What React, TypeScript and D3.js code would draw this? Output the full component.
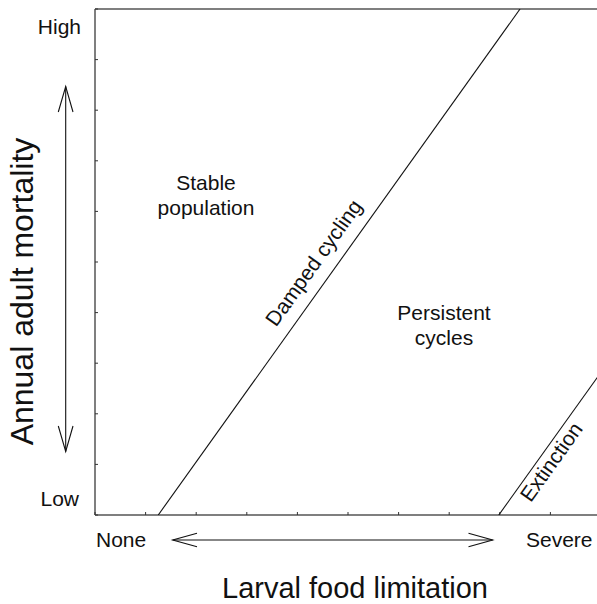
import React from "react";
import * as d3 from "d3";

const xTickValues = [0, 1, 2, 3, 4, 5, 6, 7, 8, 9, 10];
const yTickValues = [0, 1, 2, 3, 4, 5, 6, 7, 8, 9, 10];
const xEndLabels = ["None", "Severe"];
const yEndLabels = ["Low", "High"];
const dampedBoundary: [number, number][] = [[1.25, 0], [8.4, 10]];
const extinctionBoundary: [number, number][] = [[7.98, 0], [10, 2.82]];
const regionNames = ["Stable", "population", "Persistent", "cycles"];
const boundaryNames = ["Damped cycling", "Extinction"];
const xTitle = "Larval food limitation";
const yTitle = "Annual adult mortality";

const W = 597, H = 604;
const FONT = "'Liberation Sans', Arial, Helvetica, sans-serif";

export default function App() {
  const x = d3.scaleLinear().domain([0, 10]).range([95, 601]);
  const y = d3.scaleLinear().domain([0, 10]).range([515, 9]);
  const line = d3.line<[number, number]>().x(d => x(d[0])).y(d => y(d[1]));

  const ang = (pts: [number, number][]) =>
    (Math.atan2(y(pts[1][1]) - y(pts[0][1]), x(pts[1][0]) - x(pts[0][0])) * 180) / Math.PI;
  const at = (pts: [number, number][], t: number) => [
    x(pts[0][0] + (pts[1][0] - pts[0][0]) * t),
    y(pts[0][1] + (pts[1][1] - pts[0][1]) * t),
  ];

  const dA = ang(dampedBoundary);
  const dP = at(dampedBoundary, 0.475);
  const eA = ang(extinctionBoundary);
  const eP = at(extinctionBoundary, 0.42);

  const axisColor = "#555";

  return (
    <svg width={W} height={H} style={{ position: "absolute", left: 0, top: 0, background: "#fff" }} fontFamily={FONT}>
      <defs>
        <clipPath id="plot">
          <rect x={x(0)} y={y(10)} width={x(10) - x(0)} height={y(0) - y(10)} />
        </clipPath>
      </defs>
      {/* frame */}
      <line x1={x(0)} x2={x(10)} y1={y(10)} y2={y(10)} stroke={axisColor} strokeWidth={1.5} />
      <line x1={x(0)} x2={x(10)} y1={y(0)} y2={y(0)} stroke={axisColor} strokeWidth={1.5} />
      <line x1={x(0)} x2={x(0)} y1={y(10)} y2={y(0)} stroke={axisColor} strokeWidth={1.5} />
      {yTickValues.map(v => (
        <line key={"yt" + v} x1={x(0)} x2={x(0) + 3} y1={y(v)} y2={y(v)} stroke="#333" strokeWidth={1} />
      ))}
      {xTickValues.map(v => (
        <line key={"xt" + v} x1={x(v)} x2={x(v)} y1={y(0)} y2={y(0) - 3} stroke="#333" strokeWidth={1} />
      ))}

      {/* boundaries */}
      <g clipPath="url(#plot)">
        <path d={line(dampedBoundary) || ""} stroke="#111" strokeWidth={1.1} fill="none" />
        <path d={line(extinctionBoundary) || ""} stroke="#111" strokeWidth={1.1} fill="none" />
      </g>

      {/* end labels */}
      <g fontSize={21} fill="#111">
        <text x={81} y={34} textAnchor="end">{yEndLabels[1]}</text>
        <text x={79} y={506} textAnchor="end">{yEndLabels[0]}</text>
        <text x={96} y={547}>{xEndLabels[0]}</text>
        <text x={526} y={547}>{xEndLabels[1]}</text>
      </g>

      {/* region labels */}
      <g fontSize={21} fill="#111" textAnchor="middle">
        <text x={206} y={189.5}>{regionNames[0]}</text>
        <text x={206} y={214.5}>{regionNames[1]}</text>
        <text x={444} y={319.5}>{regionNames[2]}</text>
        <text x={444} y={344.5}>{regionNames[3]}</text>
        <text transform={`translate(${dP[0]},${dP[1]}) rotate(${dA})`} dy={-13}>{boundaryNames[0]}</text>
        <text transform={`translate(${eP[0]},${eP[1]}) rotate(${eA})`} dy={19}>{boundaryNames[1]}</text>
      </g>

      {/* arrows */}
      <g stroke="#111" strokeWidth={1.1} fill="none">
        <path d="M65.7,86.5 L65.7,451.5" />
        <path d="M58.3,112 L65.7,86.5 L73,112" />
        <path d="M58.3,426 L65.7,451.5 L73,426" />
        <path d="M172.7,540 L492.7,540" />
        <path d="M197,533.3 L172.7,540 L197,546.7" />
        <path d="M468.5,533.3 L492.7,540 L468.5,546.7" />
      </g>

      {/* axis titles */}
      <text x={355} y={598} fontSize={29} textAnchor="middle" fill="#111">{xTitle}</text>
      <text transform="translate(33,291.5) rotate(-90)" fontSize={32} textAnchor="middle" fill="#111">{yTitle}</text>
    </svg>
  );
}
